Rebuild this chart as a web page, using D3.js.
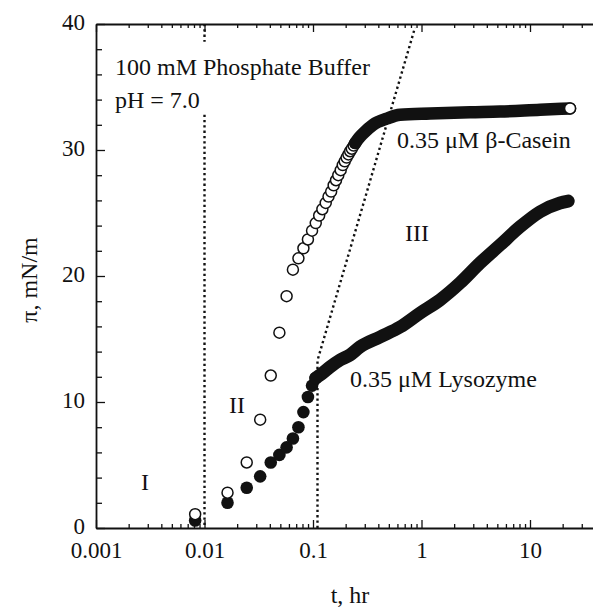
<!DOCTYPE html>
<html>
<head>
<meta charset="utf-8">
<script src="https://cdn.jsdelivr.net/npm/d3@7"></script>
<style>
  body { margin: 0; background: #fff; }
  svg { display: block; }
  text { font-family: "Liberation Serif", "Times New Roman", serif; fill: #111; }
</style>
</head>
<body>
<svg id="graph"></svg>
<script>
// data
// beta-casein, separate open circles (t in hr, pi in mN/m)
const caseinT  = [0.0082, 0.0163, 0.0245, 0.0326, 0.0408, 0.049, 0.0571, 0.0653, 0.0734, 0.0816,
                  0.0898, 0.098, 0.106, 0.114, 0.122, 0.131, 0.139, 0.147, 0.155, 0.163,
                  0.171, 0.180, 0.188, 0.196, 0.204, 0.212, 0.220, 0.228, 0.237, 0.245]
const caseinPi = [1.1, 2.8, 5.2, 8.6, 12.1, 15.5, 18.4, 20.5, 21.4, 22.2,
                  22.9, 23.6, 24.2, 24.8, 25.3, 25.8, 26.3, 26.7, 27.2, 27.6,
                  28.0, 28.4, 28.8, 29.1, 29.4, 29.65, 29.9, 30.1, 30.35, 30.55]
// beta-casein, dense part (markers merge into a band)
const caseinBandT  = [0.245, 0.265, 0.289, 0.357, 0.481, 0.634, 1.2, 2.8, 5.3, 12.4, 23.4]
const caseinBandPi = [30.55, 30.95, 31.3, 32.0, 32.5, 32.8, 32.9, 33.0, 33.05, 33.2, 33.3]

// lysozyme, separate filled circles
const lysoT  = [0.0082, 0.0163, 0.0245, 0.0326, 0.0408, 0.049, 0.0571, 0.0653, 0.0734, 0.0816, 0.0898, 0.098, 0.106]
const lysoPi = [0.6, 2.0, 3.2, 4.1, 5.2, 5.8, 6.4, 7.1, 8.0, 9.2, 10.4, 11.3, 11.9]
// lysozyme, dense part
const lysoBandT  = [0.106, 0.116, 0.1435, 0.1775, 0.219, 0.271, 0.415, 0.634, 0.969, 1.48, 2.26, 3.46, 5.29, 8.09, 12.4, 18.9, 22.5]
const lysoBandPi = [11.9, 12.14, 12.78, 13.33, 13.73, 14.37, 15.16, 15.95, 17.06, 18.1, 19.44, 21.03, 22.46, 23.9, 25.1, 25.8, 25.95]

// dotted guide lines
const guide1T = [0.01, 0.01], guide1Pi = [40, 38.6]
const guide2T = [0.01, 0.01], guide2Pi = [32.8, 0]
const guide3T = [0.11, 0.11, 0.87], guide3Pi = [0, 13.3, 39.7]

// ticks
const xMajor = [0.001, 0.01, 0.1, 1, 10]
const xLabels = ['0.001', '0.01', '0.1', '1', '10']
const yMajor = [0, 10, 20, 30, 40]

const width = 593
const height = 610
const margin = {top: 24, bottom: 82, left: 96}

const graph = d3.select('#graph')
graph.attr('width', width).attr('height', height)

const x_scale = d3.scaleLog().domain([0.001, 100]).range([margin.left, margin.left + 5 * 108.5])
const y_scale = d3.scaleLinear().domain([0, 40]).range([height - margin.bottom, margin.top])

// all minor ticks on the log axis
const xMinor = []
xMajor.forEach(m => { for (let k = 1; k <= 9; k++) xMinor.push(m * k) })
const majorIndex = d => xMajor.findIndex(m => Math.abs(m - d) / m < 1e-6)

const fontSize = 23

// bottom axis
const x_axis = d3.axisBottom(x_scale)
  .tickValues(xMinor)
  .tickSizeInner(-4).tickSizeOuter(0).tickPadding(14)
  .tickFormat(d => majorIndex(d) >= 0 ? xLabels[majorIndex(d)] : '')

const gx = graph.append('g')
  .attr('transform', `translate(0,${height - margin.bottom})`)
  .call(x_axis)
gx.selectAll('.tick line').filter(d => majorIndex(d) >= 0).attr('y2', -8)

// top axis
const gxt = graph.append('g')
  .attr('transform', `translate(0,${margin.top})`)
  .call(d3.axisTop(x_scale).tickValues(xMinor).tickSizeInner(-4).tickSizeOuter(0).tickFormat(''))
gxt.selectAll('.tick line').filter(d => majorIndex(d) >= 0).attr('y2', 8)

// left axis
const y_axis = d3.axisLeft(y_scale)
  .tickValues(d3.range(0, 41, 2))
  .tickSizeInner(-6).tickSizeOuter(0).tickPadding(11)
  .tickFormat(d => yMajor.includes(d) ? d : '')
const gy = graph.append('g')
  .attr('transform', `translate(${margin.left},0)`)
  .call(y_axis)
gy.selectAll('.tick line').filter(d => yMajor.includes(d)).attr('x2', 9)
gy.selectAll('.tick text').attr('dy', '0.22em')

graph.selectAll('.domain').attr('stroke', '#111').attr('stroke-width', 1.8)
graph.selectAll('.tick line').attr('stroke', '#111').attr('stroke-width', 1.3)
graph.selectAll('.tick text')
  .attr('font-family', '"Liberation Serif", "Times New Roman", serif')
  .attr('font-size', fontSize)
  .attr('fill', '#111')

// dotted guide lines
const line = d3.line().x(d => x_scale(d[0])).y(d => y_scale(d[1]))
const guides = [[guide1T, guide1Pi], [guide2T, guide2Pi], [guide3T, guide3Pi]]
guides.forEach(g => {
  graph.append('path')
    .attr('d', line(g[0].map((t, i) => [t, g[1][i]])))
    .attr('fill', 'none')
    .attr('stroke', '#111')
    .attr('stroke-width', 2.4)
    .attr('stroke-dasharray', '2.3 3')
})

const band = d3.line().x(d => x_scale(d[0])).y(d => y_scale(d[1])).curve(d3.curveMonotoneX)

// lysozyme
graph.append('path')
  .attr('d', band(lysoBandT.map((t, i) => [t, lysoBandPi[i]])))
  .attr('fill', 'none').attr('stroke', '#111')
  .attr('stroke-width', 13).attr('stroke-linecap', 'round')

graph.selectAll('circle.lyso')
  .data(lysoT.map((t, i) => [t, lysoPi[i]]))
  .enter().append('circle')
  .attr('class', 'lyso')
  .attr('cx', d => x_scale(d[0]))
  .attr('cy', d => y_scale(d[1]))
  .attr('r', 6.3)
  .attr('fill', '#111')

// beta-casein
graph.selectAll('circle.casein')
  .data(caseinT.map((t, i) => [t, caseinPi[i]]))
  .enter().append('circle')
  .attr('class', 'casein')
  .attr('cx', d => x_scale(d[0]))
  .attr('cy', d => y_scale(d[1]))
  .attr('r', 5.5)
  .attr('fill', '#fff').attr('stroke', '#111').attr('stroke-width', 1.5)

graph.append('path')
  .attr('d', band(caseinBandT.map((t, i) => [t, caseinBandPi[i]])))
  .attr('fill', 'none').attr('stroke', '#111')
  .attr('stroke-width', 12.5).attr('stroke-linecap', 'round')

const last = caseinBandT.length - 1
graph.append('circle')
  .attr('cx', x_scale(caseinBandT[last]))
  .attr('cy', y_scale(caseinBandPi[last]))
  .attr('r', 5.5)
  .attr('fill', '#fff').attr('stroke', '#111').attr('stroke-width', 1.5)

// annotations
const label = (txt, x, y, anchor) => graph.append('text')
  .attr('x', x).attr('y', y)
  .attr('font-size', 24)
  .attr('text-anchor', anchor || 'start')
  .text(txt)

label('100 mM Phosphate Buffer', 115, 75)
label('pH = 7.0', 115, 108)
label('0.35 \u03bcM \u03b2-Casein', 397, 148)
label('0.35 \u03bcM Lysozyme', 350, 387)
label('I', 145, 490, 'middle')
label('II', 237, 413, 'middle')
label('III', 417, 241, 'middle')

// axis titles
label('t, hr', 350, 603, 'middle')
graph.append('text')
  .attr('transform', 'translate(37,280) rotate(-90)')
  .attr('text-anchor', 'middle')
  .attr('font-size', 24)
  .text('\u03c0, mN/m')
</script>
</body>
</html>
